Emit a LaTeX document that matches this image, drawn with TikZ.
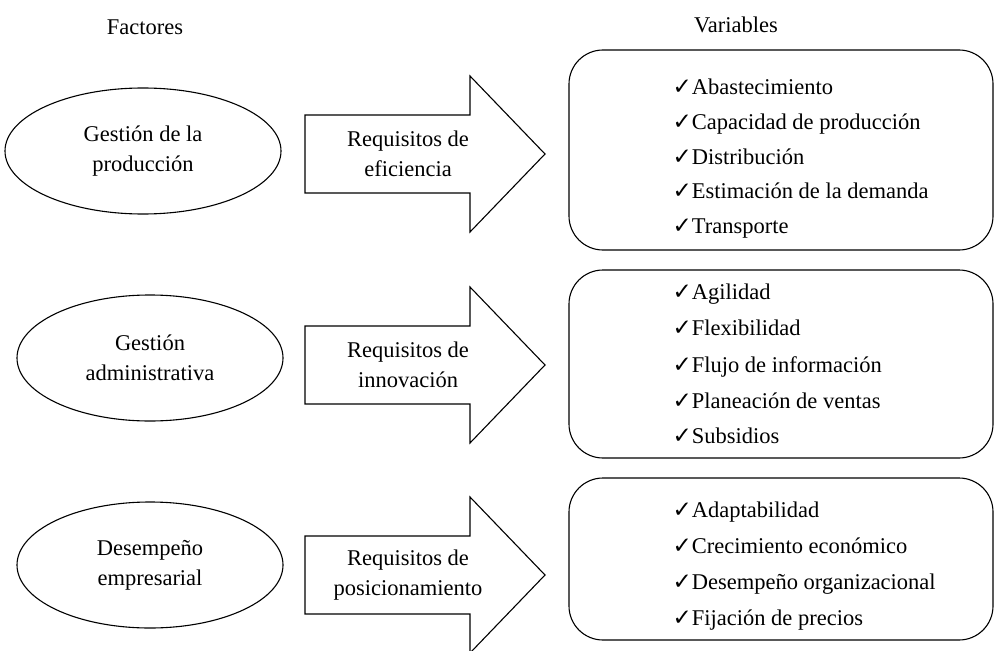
\documentclass[tikz,border=0pt]{standalone}
\usepackage{fontspec}
\setmainfont{Liberation Serif}
\newfontfamily\checkfont{DejaVu Sans}
\usepackage{tikz}
\usetikzlibrary{shapes.geometric, positioning}
\newcommand{\chk}{{\checkfont\fontsize{23}{23}\selectfont ✓}}

\begin{document}
\begin{tikzpicture}[x=1pt, y=-1pt, line width=1.1pt, font=\fontsize{22.5}{30}\selectfont]
  \useasboundingbox (0,0) rectangle (995,650);
  % column titles
  \node (factores) at (145,27) {Factores};
  \node (variables) at (736,25) {Variables};
  % factors
  \node[draw, ellipse, minimum width=276, minimum height=126, align=center] (prod) at (143,151) {Gesti\'on de la\\producci\'on};
  \node[draw, ellipse, minimum width=266, minimum height=126, align=center] (admin) at (150,358) {Gesti\'on\\administrativa};
  \node[draw, ellipse, minimum width=266, minimum height=126, align=center] (desemp) at (150,565) {Desempe\~no\\empresarial};
  % requirement arrows
  \foreach \i/\y/\lbl in {1/154/{eficiencia}, 2/365/{innovaci\'on}, 3/575/{posicionamiento}} {
    \draw (305,\y-39) -- (470,\y-39) -- (470,\y-78) -- (545,\y) -- (470,\y+78) -- (470,\y+39) -- (305,\y+39) -- cycle;
    \node[align=center] (req\i) at (408,\y) {Requisitos de\\\lbl};
  }
  % variable boxes
  \node[draw, rounded corners=34, minimum width=424, minimum height=200] (box1) at (781,150) {};
  \node[draw, rounded corners=34, minimum width=424, minimum height=188] (box2) at (781,364) {};
  \node[draw, rounded corners=34, minimum width=424, minimum height=162] (box3) at (781,559) {};
  \foreach \y/\v [count=\k] in {95/Abastecimiento, 129.5/{Capacidad de producci\'on}, 164/Distribuci\'on, 198.5/{Estimaci\'on de la demanda}, 233/Transporte} {
    \node[anchor=base west, inner sep=0] (va\k) at (672,\y) {\chk\v};
  }
  \foreach \y/\v [count=\k] in {299/Agilidad, 335/Flexibilidad, 372/{Flujo de informaci\'on}, 408/{Planeaci\'on de ventas}, 443/Subsidios} {
    \node[anchor=base west, inner sep=0] (vb\k) at (672,\y) {\chk\v};
  }
  \foreach \y/\v [count=\k] in {517/Adaptabilidad, 553/{Crecimiento econ\'omico}, 589/{Desempe\~no organizacional}, 625/{Fijaci\'on de precios}} {
    \node[anchor=base west, inner sep=0] (vc\k) at (672,\y) {\chk\v};
  }
\end{tikzpicture}
\end{document}
